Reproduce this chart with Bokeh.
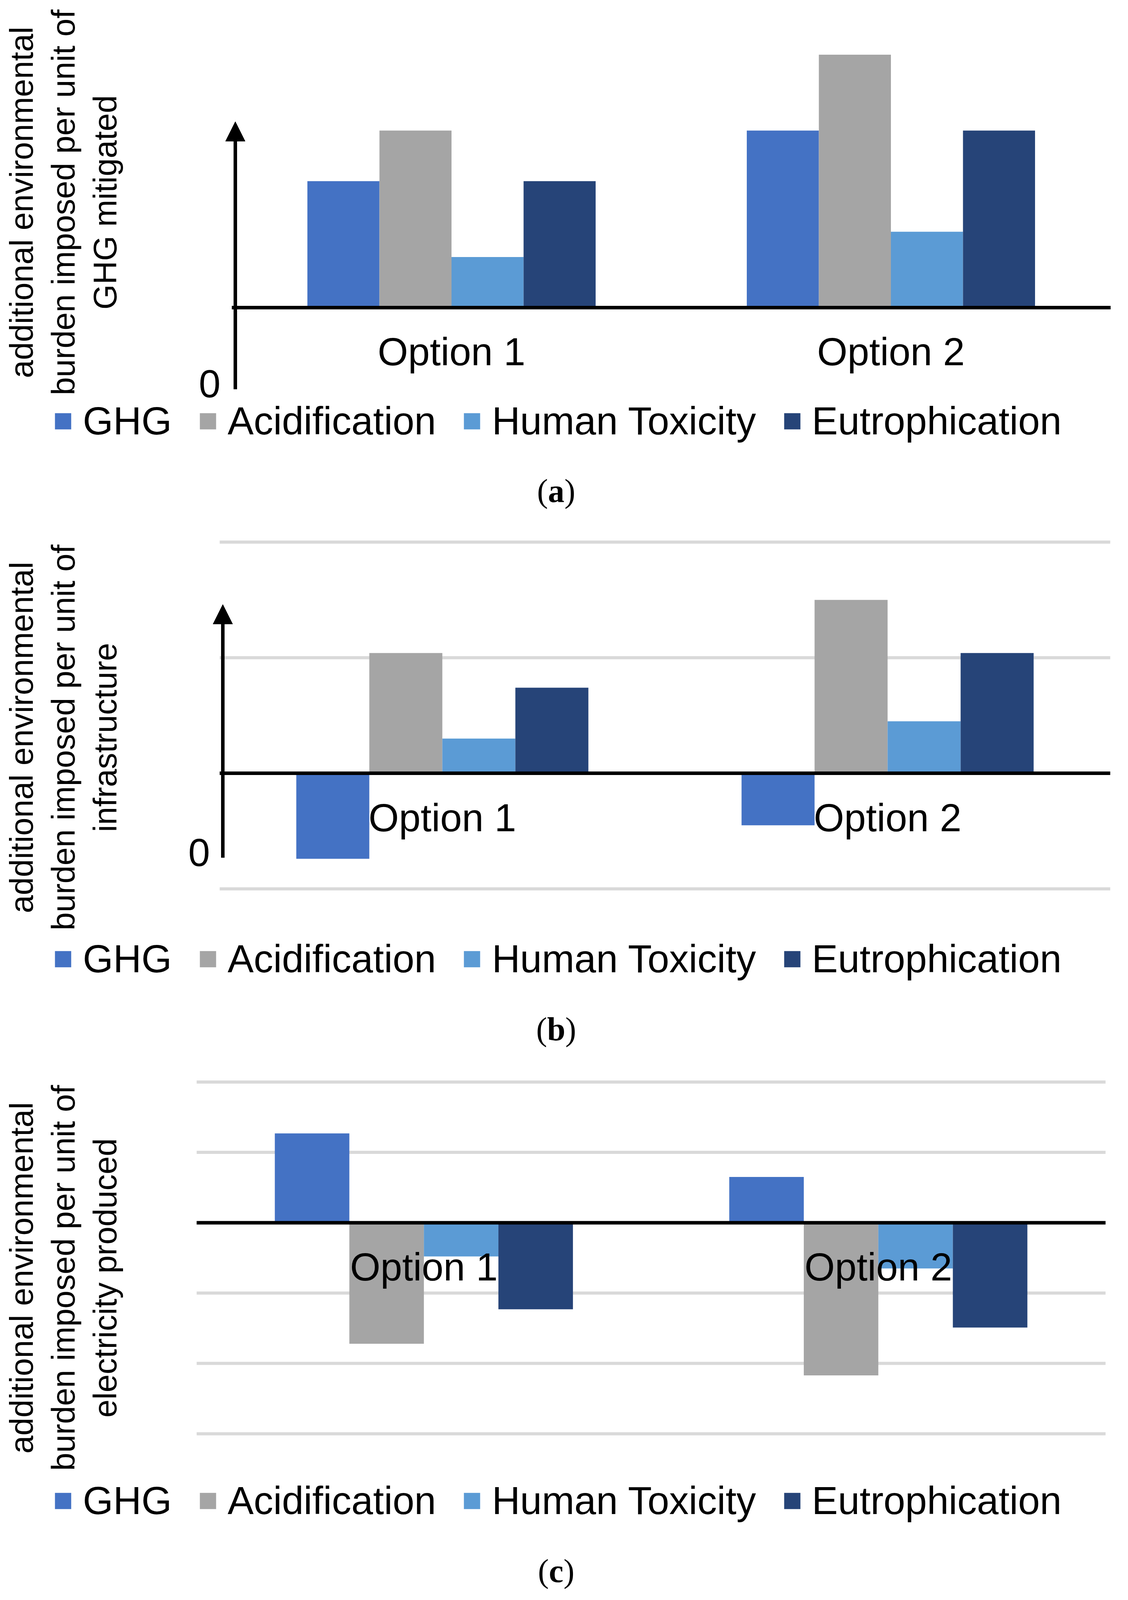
import math
from bokeh.plotting import figure
from bokeh.models import (ColumnDataSource, Arrow, NormalHead, Label, Legend,
                          LegendItem, Div)
from bokeh.layouts import column
from bokeh.transform import dodge
from bokeh.core.properties import value
from bokeh.embed import file_html
from bokeh.resources import INLINE

# ---------------- data ----------------
categories = ["Option 1", "Option 2"]
series_names = ["GHG", "Acidification", "Human Toxicity", "Eutrophication"]
series_colors = ["#4472C4", "#A5A5A5", "#5B9BD5", "#264478"]

a_ghg = [5, 7]
a_acid = [7, 10]
a_ht = [2, 3]
a_eut = [5, 7]

b_ghg = [-0.74, -0.45]
b_acid = [1.04, 1.50]
b_ht = [0.30, 0.45]
b_eut = [0.74, 1.04]

c_ghg = [1.27, 0.65]
c_acid = [-1.72, -2.17]
c_ht = [-0.48, -0.65]
c_eut = [-1.23, -1.49]

b_grid = [-1, 0, 1, 2]
c_grid = [-3, -2, -1, 0, 1, 2]

title_a = "additional environmental\nburden imposed per unit of\nGHG mitigated"
title_b = "additional environmental\nburden imposed per unit of\ninfrastructure"
title_c = "additional environmental\nburden imposed per unit of\nelectricity produced"

zero_text = "0"
captions = ["a", "b", "c"]

# ---------------- styling / layout ----------------
W = 2872
SANS = "Liberation Sans"
BAR_W = 0.164
OFFSETS = [-1.5 * BAR_W, -0.5 * BAR_W, 0.5 * BAR_W, 1.5 * BAR_W]


def make_panel(vals, x_range, y_range, height, title, title_pos, grid, legend_y,
               arrow=None, zero=None):
    p = figure(width=W, height=height, x_range=x_range, y_range=y_range,
               output_backend="svg", toolbar_location=None,
               x_axis_location=None, y_axis_location=None,
               min_border=0, min_border_left=0, min_border_right=0,
               min_border_top=0, min_border_bottom=0)
    p.outline_line_color = None
    p.grid.visible = False

    if grid is not None:
        gsrc = ColumnDataSource(dict(y=grid))
        p.segment(x0=0, x1=2, y0="y", y1="y", source=gsrc,
                  line_color="#D9D9D9", line_width=8)

    src = ColumnDataSource(dict(x=[0.5, 1.5], cat=categories,
                                s0=vals[0], s1=vals[1], s2=vals[2], s3=vals[3]))
    rends = []
    for i, name in enumerate(series_names):
        r = p.vbar(x=dodge("x", OFFSETS[i]), top="s%d" % i, bottom=0, width=BAR_W,
                   source=src, fill_color=series_colors[i], line_color=None)
        rends.append(r)

    # horizontal (category) axis line at zero
    p.segment(x0=0, x1=2, y0=0, y1=0, line_color="black", line_width=9)

    # category labels
    p.text(x="x", y=0, text="cat", source=src, text_font=value(SANS),
           text_font_size=value("100px"), text_align="center",
           text_baseline="middle", y_offset=113, text_color="black")

    # vertical axis title
    tx, ty = title_pos
    p.add_layout(Label(x=tx, y=ty, text=title, angle=math.pi / 2,
                       text_align="center", text_baseline="middle",
                       text_font=SANS, text_font_size="83px",
                       text_line_height=1.15, text_color="black"))

    if arrow is not None:
        x0, y0, y1 = arrow
        p.add_layout(Arrow(end=NormalHead(size=50, fill_color="black", line_color="black"),
                           x_start=x0, y_start=y0, x_end=x0, y_end=y1,
                           line_color="black", line_width=9))
    if zero is not None:
        zy, zoff = zero
        p.add_layout(Label(x=0, y=zy, text=zero_text, x_offset=zoff,
                           text_align="right", text_baseline="middle",
                           text_font=SANS, text_font_size="100px", text_color="black"))

    legend = Legend(items=[LegendItem(label=n, renderers=[r]) for n, r in zip(series_names, rends)],
                    orientation="horizontal", location=(135, legend_y),
                    glyph_width=52, glyph_height=52, label_standoff=25, spacing=66,
                    padding=0, margin=0, border_line_color=None,
                    background_fill_alpha=0, label_text_font=SANS,
                    label_text_font_size="100px", label_text_baseline="middle",
                    label_text_color="black")
    p.add_layout(legend, "center")
    return p


def caption(letter, height, pad):
    return Div(text=('<div style="width:%dpx;height:%dpx;padding-top:%dpx;box-sizing:border-box;'
                     'text-align:center;font-family:\'Liberation Serif\';font-size:84px;'
                     'line-height:90px;color:black;">(<b>%s</b>)</div>') % (W - 24, height, pad, letter),
               width=W, height=height, margin=0)


pa = make_panel([a_ghg, a_acid, a_ht, a_eut], (-0.52711, 2.02578), (-5.870, 12.153), 1167,
                title_a, (-0.3831, 4.159), None, 32,
                arrow=(0.008, -3.23, 7.35), zero=(-3.01, -29))
pb = make_panel([b_ghg, b_acid, b_ht, b_eut], (-0.49298, 2.02632), (-1.9323, 2.1323), 1203,
                title_b, (-0.3509, 0.3097), b_grid, 39,
                arrow=(0.007, -0.73, 1.46), zero=(-0.684, -25))
pc = make_panel([c_ghg, c_acid, c_ht, c_eut], (-0.43232, 2.0361), (-4.3160, 2.2800), 1188,
                title_c, (-0.2931, -0.7847), c_grid, 8)

layout = column(pa, caption(captions[0], 181, 45),
                pb, caption(captions[1], 168, 39),
                pc, caption(captions[2], 170, 70), spacing=0)

open("out.html", "w").write(file_html(layout, INLINE))
